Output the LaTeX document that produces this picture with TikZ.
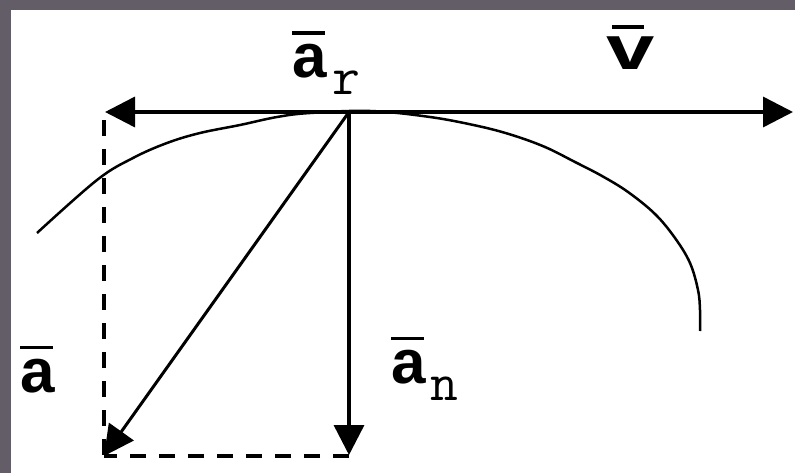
\documentclass[tikz,border=0pt]{standalone}
\usepackage{fontspec}
\usepackage{graphicx}
\usetikzlibrary{arrows.meta}
\newfontfamily\lblfont{Liberation Sans}
\definecolor{framegray}{RGB}{98,93,102}
\newcommand{\ovl}[2]{\rlap{\raisebox{#1}{\rule{33pt}{3.5pt}}}#2}
\newcommand{\subtxt}[1]{\raisebox{-17pt}{\ttfamily\mdseries\fontsize{54}{54}\selectfont #1}}
\begin{document}
\begin{tikzpicture}[x=1pt,y=-1pt,
  vec/.style={line width=3.5pt,-{Triangle[length=30pt,width=30pt]}},
  guide/.style={line width=3.5pt,dash pattern=on 16pt off 13pt},
  trajectory/.style={line width=2.5pt},
  lbl/.style={inner sep=0pt,anchor=base west,font=\lblfont\bfseries\fontsize{62}{62}\selectfont}]
\fill[framegray] (0,0) rectangle (795,473);
\fill[white] (11,10) rectangle (795,473);
\useasboundingbox (0,0) rectangle (795,473);
% points
\coordinate (O) at (349,112);
\coordinate (V) at (793,112);
\coordinate (T) at (105,112);
\coordinate (N) at (349,455);
\coordinate (A) at (104,456);
\coordinate (Dtop) at (104,120);
\coordinate (Dcorner) at (349,456);
% trajectory
\draw[trajectory] plot[smooth,tension=0.6] coordinates {(37,233) (97,180) (133,158) (167,143) (200,133) (240,125) (277,117) (310,113) (370,111) (430,117) (478,126) (512,135) (545,147) (575,162) (602,176) (628,192) (655,214) (675,238) (690,263) (698,290) (700,310) (700,331)};
% guides
\draw[guide] (Dtop) -- (A);
\draw[guide] (Dcorner) -- (A);
% vectors
\draw[vec] (O) -- (V);
\draw[vec] (O) -- (T);
\draw[vec] (O) -- (N);
\draw[vec,line width=3pt] (O) -- (A);
% labels
\node[lbl] (la) at (20,392) {\ovl{43pt}{a}};
\node[lbl] (lat) at (292,78) {\ovl{43pt}{a}\hspace{6pt}\subtxt{r}};
\node[lbl] (lan) at (391,383) {\ovl{43pt}{a}\hspace{5pt}\subtxt{n}};
\node[lbl] (lv) at (606,70) {\rlap{\hspace{6pt}\raisebox{41pt}{\rule{32pt}{3.5pt}}}\scalebox{1.4}[1]{v}};
\end{tikzpicture}
\end{document}
